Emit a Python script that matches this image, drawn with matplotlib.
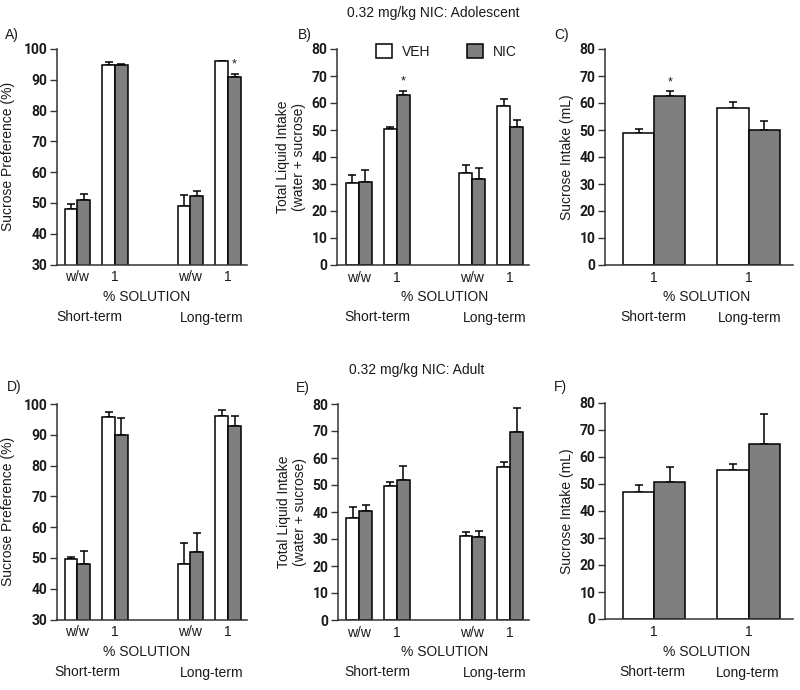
import numpy as np
import matplotlib.pyplot as plt

plt.rcParams['font.family'] = ['Liberation Sans', 'DejaVu Sans']

# tick labels
four_labels = ["w/w", "1", "w/w", "1"]
two_labels = ["1", "1"]

# A) sucrose preference, adolescent
a_veh = [48.0, 94.8, 49.0, 96.0]
a_veh_err = [1.7, 1.0, 3.6, 0.2]
a_nic = [51.0, 94.9, 52.1, 90.9]
a_nic_err = [1.8, 0.3, 1.9, 1.0]

# B) total liquid intake, adolescent
b_veh = [30.5, 50.4, 34.0, 59.0]
b_veh_err = [2.8, 0.8, 3.0, 2.6]
b_nic = [30.9, 62.8, 32.0, 51.0]
b_nic_err = [4.2, 1.7, 4.0, 2.8]

# C) sucrose intake, adolescent
c_veh = [49.0, 58.0]
c_veh_err = [1.5, 2.4]
c_nic = [62.7, 50.0]
c_nic_err = [1.6, 3.2]

# D) sucrose preference, adult
d_veh = [49.6, 95.7, 47.9, 96.2]
d_veh_err = [0.8, 1.8, 7.1, 1.7]
d_nic = [48.1, 89.8, 51.9, 92.9]
d_nic_err = [4.1, 5.7, 6.1, 3.3]

# E) total liquid intake, adult
e_veh = [37.6, 49.8, 31.2, 56.5]
e_veh_err = [4.1, 1.2, 1.5, 1.9]
e_nic = [40.5, 52.0, 30.9, 69.5]
e_nic_err = [2.2, 5.0, 2.2, 9.0]

# F) sucrose intake, adult
f_veh = [46.9, 55.1]
f_veh_err = [2.6, 2.4]
f_nic = [50.9, 64.9]
f_nic_err = [5.5, 11.1]

W, H = 800, 690
TXT = "#1a1a1a"
GRAY = "#7f7f7f"

fig = plt.figure(figsize=(W / 100, H / 100), dpi=100)


def px_axes(left, right, top, bottom):
    return fig.add_axes([left / W, 1 - bottom / H, (right - left) / W, (bottom - top) / H])


def ftext(x, y, s, **kw):
    kw.setdefault("ha", "center")
    kw.setdefault("va", "center")
    kw.setdefault("fontsize", 10)
    kw.setdefault("color", TXT)
    fig.text(x / W, 1 - y / H, s, **kw)


def draw_panel(ax, pos, veh, veh_err, nic, nic_err, labels, width, ylim, yticks, xlim, stars=()):
    pos = np.array(pos, dtype=float)
    ax.bar(pos - width / 2, veh, width, color="white", edgecolor="black", linewidth=1.1, zorder=2)
    ax.bar(pos + width / 2, nic, width, color=GRAY, edgecolor="black", linewidth=1.1, zorder=2)
    ax.errorbar(pos - width / 2, veh, yerr=[np.zeros(len(veh)), veh_err], fmt="none",
                ecolor="black", elinewidth=1.1, capsize=3, capthick=1.1, zorder=1)
    ax.errorbar(pos + width / 2, nic, yerr=[np.zeros(len(nic)), nic_err], fmt="none",
                ecolor="black", elinewidth=1.1, capsize=3, capthick=1.1, zorder=1)
    for i in stars:
        ax.text(pos[i] + width / 2, nic[i] + nic_err[i] + 1.2, "*", ha="center", va="bottom",
                fontsize=9, color=TXT)
    ax.set_ylim(*ylim)
    ax.set_xlim(*xlim)
    ax.set_yticks(list(yticks))
    ax.set_yticklabels([str(v) for v in yticks], family=["Roboto", "DejaVu Sans"],
                       fontweight="bold", fontsize=10, color=TXT)
    ax.set_xticks(pos)
    ax.set_xticklabels(labels, fontsize=10, color=TXT)
    ax.tick_params(axis="x", length=0, pad=4)
    ax.tick_params(axis="y", length=5, width=1, direction="out", pad=2, color="#333333")
    for s in ["top", "right"]:
        ax.spines[s].set_visible(False)
    for s in ["left", "bottom"]:
        ax.spines[s].set_linewidth(1.1)
        ax.spines[s].set_color("#333333")


pos4 = [0, 1, 3, 4]
pos2 = [0, 1]

# top row
axA = px_axes(57, 247, 49, 264.5)
draw_panel(axA, pos4, a_veh, a_veh_err, a_nic, a_nic_err, four_labels, 0.34,
           (30, 100), range(30, 101, 10), (-0.54, 4.5), stars=[3])
axA.set_ylabel("Sucrose Preference (%)", fontsize=10, color=TXT, labelpad=6)

axB = px_axes(337, 529, 49, 265)
draw_panel(axB, pos4, b_veh, b_veh_err, b_nic, b_nic_err, four_labels, 0.34,
           (0, 80), range(0, 81, 10), (-0.58, 4.5), stars=[1])
axB.set_ylabel("Total Liquid Intake\n(water + sucrose)", fontsize=10, color=TXT, labelpad=4)
axB.legend(["VEH", "NIC"], ncol=2, frameon=False, loc="upper center",
           bbox_to_anchor=(0.57, 1.05), borderaxespad=0, fontsize=10,
           handlelength=1.2, handleheight=1.2, columnspacing=2.6, handletextpad=0.7,
           labelcolor=TXT)

axC = px_axes(605, 793, 49, 265)
draw_panel(axC, pos2, c_veh, c_veh_err, c_nic, c_nic_err, two_labels, 0.33,
           (0, 80), range(0, 81, 10), (-0.52, 1.47), stars=[0])
axC.set_ylabel("Sucrose Intake (mL)", fontsize=10, color=TXT, labelpad=4)

# bottom row
axD = px_axes(57, 247, 404, 619.5)
draw_panel(axD, pos4, d_veh, d_veh_err, d_nic, d_nic_err, four_labels, 0.34,
           (30, 100), range(30, 101, 10), (-0.54, 4.5))
axD.set_ylabel("Sucrose Preference (%)", fontsize=10, color=TXT, labelpad=6)

axE = px_axes(338, 529, 404, 620)
draw_panel(axE, pos4, e_veh, e_veh_err, e_nic, e_nic_err, four_labels, 0.34,
           (0, 80), range(0, 81, 10), (-0.56, 4.5))
axE.set_ylabel("Total Liquid Intake\n(water + sucrose)", fontsize=10, color=TXT, labelpad=4)

axF = px_axes(605, 793, 403, 619)
draw_panel(axF, pos2, f_veh, f_veh_err, f_nic, f_nic_err, two_labels, 0.33,
           (0, 80), range(0, 81, 10), (-0.52, 1.47))
axF.set_ylabel("Sucrose Intake (mL)", fontsize=10, color=TXT, labelpad=4)

# titles and panel letters
ftext(433, 13, "0.32 mg/kg NIC: Adolescent")
ftext(417, 370, "0.32 mg/kg NIC: Adult")
for x, y, s in [(12, 35, "A)"), (305, 35, "B)"), (562, 35, "C)"),
                (14, 387, "D)"), (303, 388, "E)"), (560, 387, "F)")]:
    ftext(x, y, s)

# x axis captions
for x, y0 in [(147, 0), (445, 0), (707, 0), (147, 355), (445, 355), (707, 355)]:
    ftext(x, 297 + y0, "% SOLUTION")
for (xs, xl), y0 in [((89, 212), 0), ((377, 495), 0), ((653, 750), 0),
                     ((87, 212), 355), ((377, 495), 355), ((652, 748), 355)]:
    ftext(xs, 317 + y0, "Short-term")
    ftext(xl, 318 + y0, "Long-term")

fig.savefig("out.png", dpi=100)
